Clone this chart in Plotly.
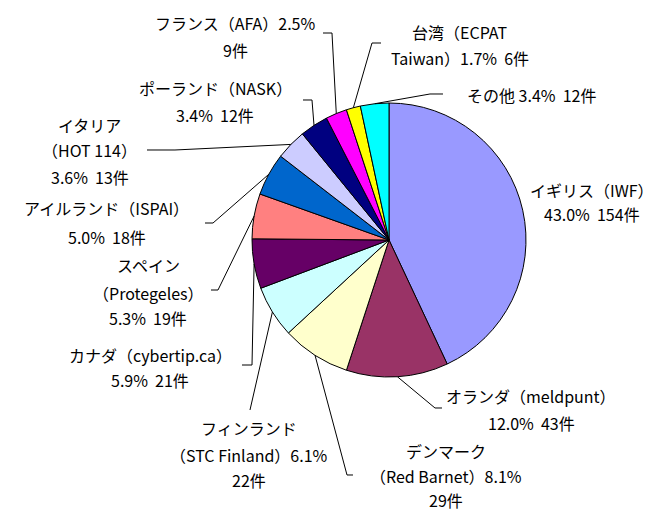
import math
import plotly.graph_objects as go

# ---- data ----
countries = ["イギリス（IWF）", "オランダ（meldpunt）", "デンマーク（Red Barnet）",
             "フィンランド（STC Finland）", "カナダ（cybertip.ca）", "スペイン（Protegeles）",
             "アイルランド（ISPAI）", "イタリア（HOT 114）", "ポーランド（NASK）",
             "フランス（AFA）", "台湾（ECPAT Taiwan）", "その他"]
counts = [154, 43, 29, 22, 21, 19, 18, 13, 12, 9, 6, 12]
colors = ["#9999FF", "#993366", "#FFFFCC", "#CCFFFF", "#660066", "#FF8080",
          "#0066CC", "#CCCCFF", "#000080", "#FF00FF", "#FFFF00", "#00FFFF"]
SP = "\u00a0\u00a0"
label_templates = [
    ["イギリス（IWF）", "{p}%" + SP + "{n}件"],
    ["オランダ（meldpunt）", "{p}%" + SP + "{n}件"],
    ["デンマーク", "（Red Barnet）{p}%", "{n}件"],
    ["フィンランド", "（STC Finland）{p}%", "{n}件"],
    ["カナダ（cybertip.ca）", "{p}%" + SP + "{n}件"],
    ["スペイン", "（Protegeles）", "{p}%" + SP + "{n}件"],
    ["アイルランド（ISPAI）", "{p}%" + SP + "{n}件"],
    ["イタリア", "（HOT 114）", "{p}%" + SP + "{n}件"],
    ["ポーランド（NASK）", "{p}%" + SP + "{n}件"],
    ["フランス（AFA）{p}%", "{n}件"],
    ["台湾（ECPAT", "Taiwan）{p}%" + SP + "{n}件"],
    ["その他 {p}%" + SP + "{n}件"],
]

# ---- layout (pixels) ----
W, H = 659, 515
CX, CY, R = 389, 240, 137
label_x = [592, 531, 446, 249, 150, 148, 107, 90, 215, 235, 460, 531]
label_line_y = [[190, 214], [396, 423], [451, 476, 500], [428, 455, 480], [355, 380],
                [265, 293, 318], [208, 237], [125, 150, 177], [88, 115], [23, 50],
                [32, 58], [95]]
leader_ends = [[], [(435, 408), (442, 408)], [(347, 475), (353, 475)], [(250, 410)],
               [(252, 365), (242, 365)], [(218, 290), (211, 290)], [(213, 223), (205, 223)],
               [(175, 150), (147, 150)], [(312, 100), (303, 100)], [(332, 33), (323, 33)],
               [(372, 43), (381, 43)], [(430, 94), (443, 94)]]


def px(x):
    return x / W


def py(y):
    return 1 - y / H


fig = go.Figure(go.Pie(
    labels=countries, values=counts, sort=False, direction="clockwise", rotation=0,
    marker=dict(colors=colors, line=dict(color="#000000", width=1)),
    textinfo="none", hoverinfo="label+value+percent", showlegend=False,
    domain=dict(x=[px(CX - R), px(CX + R)], y=[py(CY + R), py(CY - R)]),
))

total = sum(counts)
annotations = []
shapes = []
cum = 0
for i, v in enumerate(counts):
    theta = (cum + v / 2) / total * 2 * math.pi
    cum += v
    pct = f"{v / total * 100:.1f}"
    for tmpl, yy in zip(label_templates[i], label_line_y[i]):
        annotations.append(dict(
            x=px(label_x[i]), y=py(yy), xref="paper", yref="paper",
            text=tmpl.format(p=pct, n=v), showarrow=False,
            xanchor="center", yanchor="middle",
            font=dict(family="Noto Sans CJK JP", size=16, color="#000000"),
        ))
    if leader_ends[i]:
        ex = CX + R * math.sin(theta)
        ey = CY - R * math.cos(theta)
        pts = [(ex, ey)] + leader_ends[i]
        path = "M " + " L ".join(f"{px(a):.5f},{py(b):.5f}" for a, b in pts)
        shapes.append(dict(type="path", path=path, xref="paper", yref="paper",
                           line=dict(color="#000000", width=1)))

fig.update_layout(
    width=W, height=H, margin=dict(l=0, r=0, t=0, b=0),
    paper_bgcolor="#FFFFFF", plot_bgcolor="#FFFFFF",
    annotations=annotations, shapes=shapes,
)

fig.write_html("out.html")
